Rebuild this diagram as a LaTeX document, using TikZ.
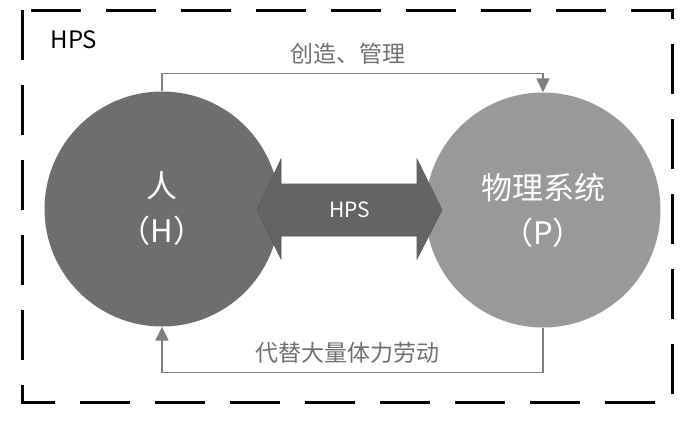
\documentclass[tikz,border=0pt]{standalone}
\usepackage{fontspec}
\setmainfont{Noto Sans CJK SC}
\usetikzlibrary{arrows.meta}
\definecolor{humgray}{HTML}{6E6E6E}
\definecolor{phygray}{HTML}{999999}
\definecolor{arrowgray}{HTML}{646464}
\definecolor{linegray}{HTML}{7F7F7F}
\definecolor{labelgray}{HTML}{707070}
\tikzset{
  agent/.style={circle, minimum size=235pt, inner sep=0pt, text=white, align=center,
    font=\fontsize{31}{45}\selectfont},
  conn/.style={draw=linegray, line width=1.5pt, -{Triangle[length=14pt,width=13pt]}},
  flowlabel/.style={text=labelgray, font=\fontsize{23}{28}\selectfont}
}
\begin{document}
\begin{tikzpicture}[x=1pt,y=-1pt]
\useasboundingbox (0,0) rectangle (689,421);
% system boundary
\draw[black, line width=3pt, dash pattern=on 50pt off 25pt] (22,10) rectangle (672,402);
\node[anchor=west, font=\fontsize{24}{28}\selectfont] (title) at (47,40) {HPS};
% human and physical system
\node[agent, fill=humgray] (hum) at (162,209) {人\\（H）};
\node[agent, fill=phygray] (phy) at (543,210) {物理系统\\（P）};
% interaction arrow
\draw[fill=arrowgray, draw=black!65, line width=0.6pt]
  (257,210) -- (281,159) -- (281,184) -- (417,184) -- (417,159) -- (442,210)
  -- (417,259) -- (417,236) -- (281,236) -- (281,259) -- cycle;
\node[text=white, font=\fontsize{21}{24}\selectfont] (link) at (349.5,210) {HPS};
% flows
\draw[conn] (hum.north) -- ++(0,-18) -| (phy.north);
\draw[conn] (phy.south) -- ++(0,45) -| (hum.south);
\node[flowlabel] (make) at (348,54) {创造、管理};
\node[flowlabel] (replace) at (347,353) {代替大量体力劳动};
\end{tikzpicture}
\end{document}
